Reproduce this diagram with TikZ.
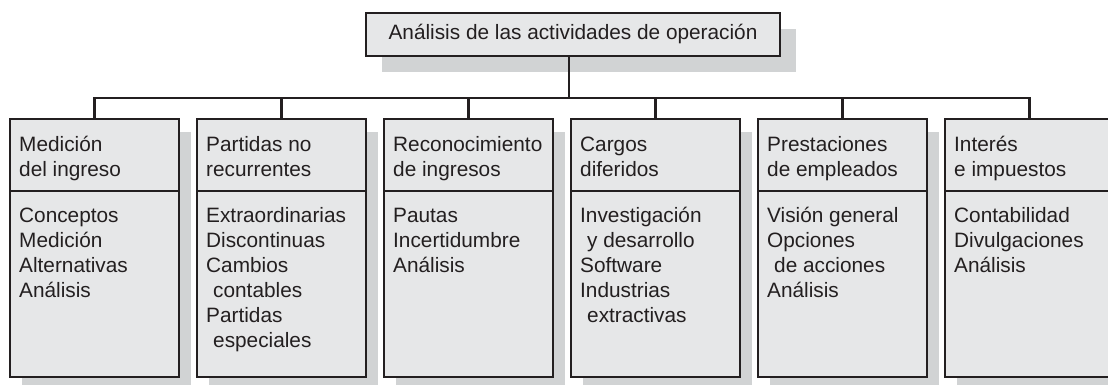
\documentclass[tikz,border=0pt]{standalone}
\usepackage{fontspec}
\setmainfont{Liberation Sans}
\definecolor{boxc}{HTML}{E6E7E8}
\definecolor{shadc}{HTML}{D1D3D4}
\definecolor{linec}{HTML}{231F20}
\newcommand{\ind}{\hspace*{7pt}}
\newcommand{\lines}[1]{\begin{tabular}[t]{@{}l@{}}#1\end{tabular}}
\begin{document}
\begin{tikzpicture}[x=1pt,y=-1pt,
  hbox/.style={draw=linec, fill=boxc, line width=2.3pt, minimum width=169pt, minimum height=72pt, anchor=north west, inner sep=0pt, outer sep=0pt},
  bbox/.style={draw=linec, fill=boxc, line width=2.3pt, minimum width=169pt, minimum height=186pt, anchor=north west, inner sep=0pt, outer sep=0pt},
  txt/.style={anchor=base west, inner sep=0pt, text=linec, font=\fontsize{20.8}{25}\selectfont},
  wire/.style={draw=linec, line width=2.3pt}]
\useasboundingbox (0,0) rectangle (1108,385);
% top box
\fill[shadc] (382,29) rectangle (796,72);
\node[draw=linec, fill=boxc, line width=2.3pt, minimum width=414pt, minimum height=43pt, anchor=north west, inner sep=0pt, outer sep=0pt, text=linec, font=\fontsize{20.8}{25}\selectfont] (top) at (366,13) {Análisis de las actividades de operación};
% lower boxes
\foreach \i/\x in {1/10,2/197,3/384,4/571,5/758,6/945}{
  \fill[shadc] (\x+12,132) rectangle (\x+181,395);
  \node[hbox] (h\i) at (\x,119) {};
  \node[bbox] (d\i) at (\x,191) {};
}
% connectors
\coordinate (bus) at (569,98);
\draw[wire] (bus |- top.south) -- (bus);
\draw[wire] (h1.north) |- (bus) -| (h6.north);
\foreach \i in {2,3,4,5}{
  \draw[wire] (h\i.north) -- (h\i.north |- bus);
}
% texts
\node[txt] (t1) at (19,151) {\lines{Medición\\del ingreso}};
\node[txt] (s1) at (19,222) {\lines{Conceptos\\Medición\\Alternativas\\Análisis}};
\node[txt] (t2) at (206,151) {\lines{Partidas no\\recurrentes}};
\node[txt] (s2) at (206,222) {\lines{Extraordinarias\\Discontinuas\\Cambios\\\ind contables\\Partidas\\\ind especiales}};
\node[txt] (t3) at (393,151) {\lines{Reconocimiento\\de ingresos}};
\node[txt] (s3) at (393,222) {\lines{Pautas\\Incertidumbre\\Análisis}};
\node[txt] (t4) at (580,151) {\lines{Cargos\\diferidos}};
\node[txt] (s4) at (580,222) {\lines{Investigación\\\ind y desarrollo\\Software\\Industrias\\\ind extractivas}};
\node[txt] (t5) at (767,151) {\lines{Prestaciones\\de empleados}};
\node[txt] (s5) at (767,222) {\lines{Visión general\\Opciones\\\ind de acciones\\Análisis}};
\node[txt] (t6) at (954,151) {\lines{Interés\\e impuestos}};
\node[txt] (s6) at (954,222) {\lines{Contabilidad\\Divulgaciones\\Análisis}};
\end{tikzpicture}
\end{document}
